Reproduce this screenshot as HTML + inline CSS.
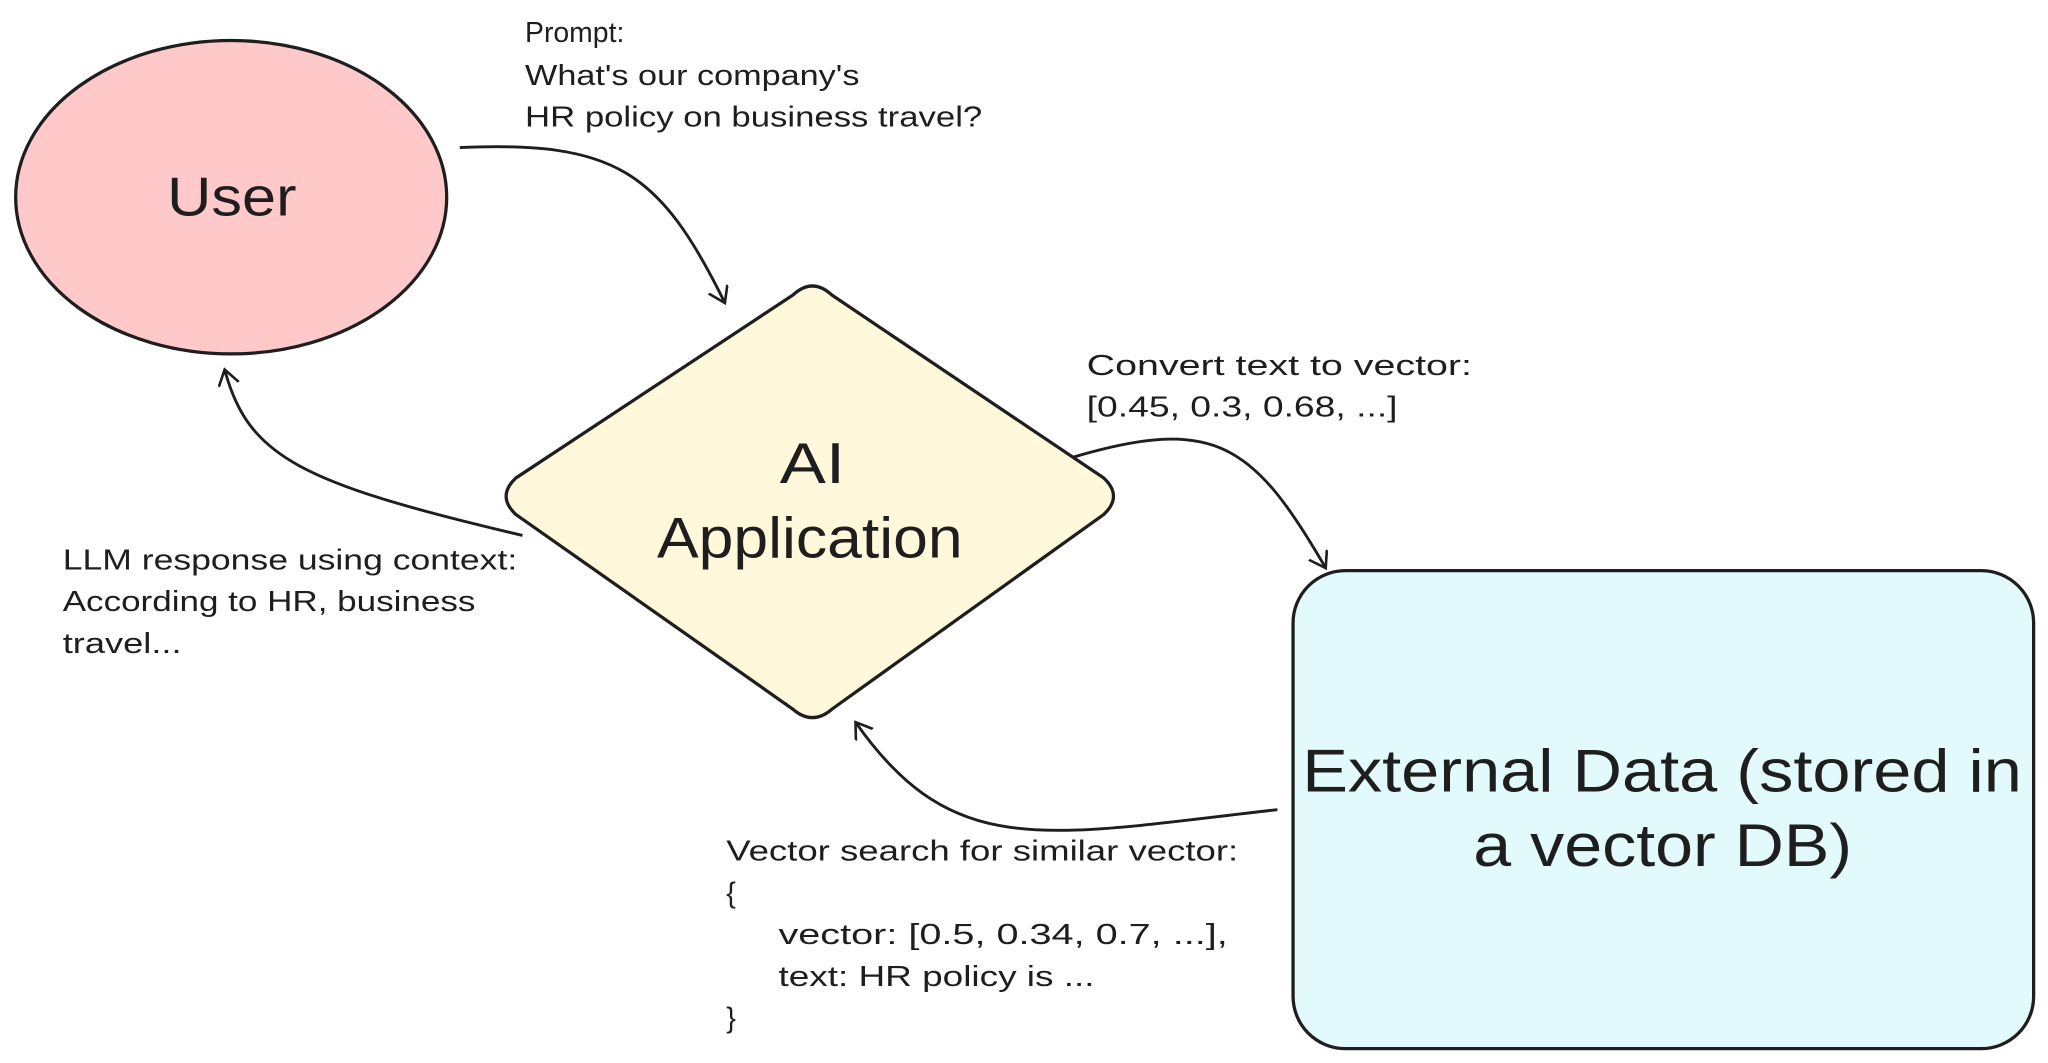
<!DOCTYPE html>
<html><head><meta charset="utf-8"><style>
html,body{margin:0;padding:0;background:#fff;}
svg{display:block}
text{font-family:"Liberation Sans",sans-serif;fill:#1e1e1e}
</style></head><body>
<svg width="2048" height="1063" viewBox="0 0 1568 814" preserveAspectRatio="none" xmlns="http://www.w3.org/2000/svg">
<defs>
<marker id="a" markerWidth="20" markerHeight="20" refX="12" refY="8" orient="auto" markerUnits="userSpaceOnUse">
<path d="M0,0 L12,8 L0,16" fill="none" stroke="#1e1e1e" stroke-width="2"/>
</marker>
</defs>
<ellipse cx="177" cy="151" rx="165" ry="120" fill="#ffc9c9" stroke="#1e1e1e" stroke-width="2.5"/>
<text x="128" y="165" font-size="42" textLength="99" lengthAdjust="spacingAndGlyphs">User</text>
<path d="M607,226 Q622,212 637,226 L845,366 Q860,380 845,394 L637,543 Q622,556 607,543 L395,394 Q380,380 395,366 Z" fill="#fff8db" stroke="#1e1e1e" stroke-width="2.5"/>
<text x="597" y="370" font-size="44" textLength="50" lengthAdjust="spacingAndGlyphs">AI</text>
<text x="503" y="427" font-size="44" textLength="234" lengthAdjust="spacingAndGlyphs">Application</text>
<rect x="990" y="437" width="567" height="366" rx="40" fill="#e3fafc" stroke="#1e1e1e" stroke-width="2.5"/>
<text x="997" y="606" font-size="46" textLength="551" lengthAdjust="spacingAndGlyphs">External Data (stored in</text>
<text x="1128" y="663" font-size="46" textLength="290" lengthAdjust="spacingAndGlyphs">a vector DB)</text>
<g fill="none" stroke="#1e1e1e" stroke-width="2.2">
<path d="M352,113 C470,108 505,130 555,232" marker-end="url(#a)"/>
<path d="M822,350 C930,318 960,340 1015,435" marker-end="url(#a)"/>
<path d="M978,620 C800,640 730,660 655,553" marker-end="url(#a)"/>
<path d="M400,410 C230,370 190,350 172,283" marker-end="url(#a)"/>
</g>
<g font-size="22" lengthAdjust="spacingAndGlyphs">
<text x="402" y="32" textLength="76" lengthAdjust="spacingAndGlyphs">Prompt:</text>
<text x="402" y="65" textLength="256" lengthAdjust="spacingAndGlyphs">What's our company's</text>
<text x="402" y="97" textLength="350" lengthAdjust="spacingAndGlyphs">HR policy on business travel?</text>
<text x="832" y="287" textLength="295" lengthAdjust="spacingAndGlyphs">Convert text to vector:</text>
<text x="832" y="319" textLength="238" lengthAdjust="spacingAndGlyphs">[0.45, 0.3, 0.68, ...]</text>
<text x="48" y="436" textLength="348" lengthAdjust="spacingAndGlyphs">LLM response using context:</text>
<text x="48" y="468" textLength="316" lengthAdjust="spacingAndGlyphs">According to HR, business</text>
<text x="48" y="500" textLength="91" lengthAdjust="spacingAndGlyphs">travel...</text>
<text x="556" y="659" textLength="392" lengthAdjust="spacingAndGlyphs">Vector search for similar vector:</text>
<text x="556" y="691">{</text>
<text x="596" y="723" textLength="344" lengthAdjust="spacingAndGlyphs">vector: [0.5, 0.34, 0.7, ...],</text>
<text x="596" y="755" textLength="242" lengthAdjust="spacingAndGlyphs">text: HR policy is ...</text>
<text x="556" y="787">}</text>
</g>
</svg>
</body></html>
